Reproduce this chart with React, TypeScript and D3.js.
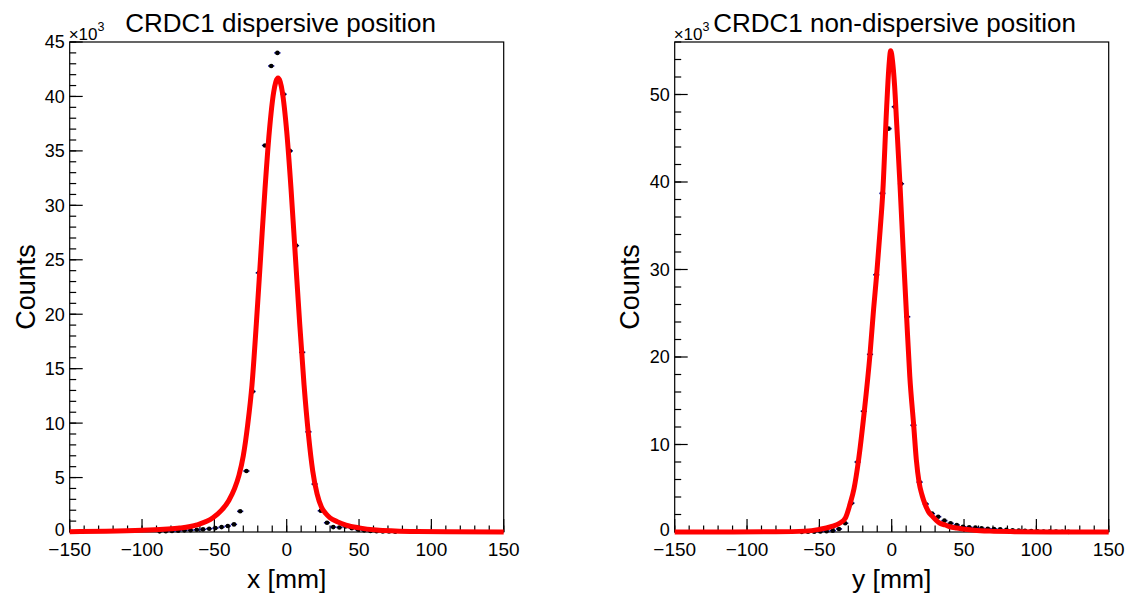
import React from "react";
import * as d3 from "d3";

// Histogram binning: 70 bins over [-150, 150] mm
const X_MIN = -150;
const X_MAX = 150;
const N_BINS = 70;

// Left panel: CRDC1 dispersive position (counts in thousands), bins starting at index 14
const leftFirstBin = 14;
const leftCounts = [
  0.06, 0.07, 0.09, 0.11, 0.15, 0.17, 0.2, 0.24, 0.3, 0.36, 0.45, 0.55, 0.7, 1.9,
  5.6, 12.9, 23.8, 35.5, 42.8, 44.0, 40.2, 35.0, 26.3, 16.5, 9.2, 4.4, 1.95, 0.85,
  0.45, 0.42, 0.5, 0.34, 0.22, 0.15, 0.1, 0.07, 0.05, 0.04, 0.03,
];
// Left fit curve samples [x mm, counts k]
const leftFitX = [
  -150, -125, -100, -85, -74, -62, -51, -45, -40, -36, -33, -30, -27, -24, -21, -18,
  -15, -12, -9, -6, -3, 0, 3, 6, 9, 12, 15, 18, 21, 24, 27, 30, 35, 41, 50, 62, 75,
  90, 110, 150,
];
const leftFitY = [
  0.03, 0.08, 0.17, 0.26, 0.36, 0.65, 1.3, 2.0, 2.9, 4.0, 5.2, 7.0, 9.8, 13.5, 19.1,
  25.3, 31.5, 36.8, 40.4, 41.7, 40.4, 36.8, 31.5, 25.3, 19.1, 13.5, 9.0, 5.6, 3.5,
  2.3, 1.7, 1.3, 0.95, 0.64, 0.38, 0.18, 0.1, 0.05, 0.02, 0.0,
];

// Right panel: CRDC1 non-dispersive position, bins starting at index 20
const rightFirstBin = 20;
const rightCounts = [
  0.02, 0.03, 0.04, 0.06, 0.09, 0.15, 0.35, 1.0, 3.3, 8.0, 13.8, 20.3, 29.4, 38.7,
  46.1, 48.6, 39.8, 24.6, 12.2, 5.7, 3.2, 2.1, 1.75, 1.3, 1.0, 0.8, 0.6, 0.54, 0.5,
  0.42, 0.38, 0.34, 0.3, 0.25, 0.2, 0.16, 0.13, 0.1, 0.08, 0.06, 0.05, 0.04, 0.03,
  0.02,
];
const rightFitX = [
  -150, -110, -80, -60, -50, -42, -36, -32, -28.8, -26, -23.1, -19, -15, -12.5,
  -10.4, -8, -6.2, -3.5, -2, -0.7, 0.6, 2, 3.5, 5.7, 8, 10.3, 12.5, 15.2, 17, 18.9,
  21, 23, 25.5, 28.3, 31, 33.4, 37, 40.3, 45, 49, 57, 68, 85, 110, 150,
];
const rightFitY = [
  0.0, 0.01, 0.03, 0.1, 0.3, 0.6, 1.0, 1.6, 3.2, 5.0, 8.0, 13.7, 20.3, 25.5, 29.4,
  34.5, 38.7, 48.5, 53.0, 55.0, 53.8, 51.0, 46.5, 39.8, 32.0, 24.6, 17.8, 12.2, 8.3,
  5.7, 4.2, 3.2, 2.3, 1.75, 1.3, 1.0, 0.8, 0.6, 0.45, 0.34, 0.2, 0.1, 0.04, 0.01, 0.0,
];

const xTickValues = [-150, -100, -50, 0, 50, 100, 150];
const leftYTicks = [0, 5, 10, 15, 20, 25, 30, 35, 40, 45];
const rightYTicks = [0, 10, 20, 30, 40, 50];

const FONT = "'Liberation Sans', Arial, Helvetica, sans-serif";

type PanelProps = {
  x0: number;
  x1: number;
  y0: number;
  y1: number;
  yMax: number;
  yTicks: number[];
  yMinorStep: number;
  firstBin: number;
  counts: number[];
  fitX: number[];
  fitY: number[];
  title: string;
  titleX: number;
  xLabel: string;
  yLabelX: number;
};

function Panel(p: PanelProps) {
  const x = d3.scaleLinear().domain([X_MIN, X_MAX]).range([p.x0, p.x1]);
  const y = d3.scaleLinear().domain([0, p.yMax]).range([p.y1, p.y0]);
  const binW = (X_MAX - X_MIN) / N_BINS;
  const pts = p.counts.map((c, k) => {
    const i = p.firstBin + k;
    const lo = X_MIN + i * binW;
    return { lo, hi: lo + binW, cx: lo + binW / 2, c };
  });
  const fitData = p.fitX.map((v, i) => [v, p.fitY[i]] as [number, number]);
  const line = d3
    .line<[number, number]>()
    .x((d) => x(d[0]))
    .y((d) => y(d[1]))
    .curve(d3.curveMonotoneX);

  const xMinor = d3.range(X_MIN, X_MAX + 0.001, 10);
  const yMinor = d3.range(0, p.yMax + 0.001, p.yMinorStep);
  const midX = (p.x0 + p.x1) / 2;
  const midY = (p.y0 + p.y1) / 2;

  return (
    <g>
      {/* frame */}
      <rect
        x={p.x0}
        y={p.y0}
        width={p.x1 - p.x0}
        height={p.y1 - p.y0}
        fill="none"
        stroke="#000"
        strokeWidth={1.2}
      />
      {/* x ticks */}
      {xMinor.map((t) => (
        <line key={"xm" + t} x1={x(t)} x2={x(t)} y1={p.y1} y2={p.y1 - 6.5} stroke="#000" strokeWidth={1.2} />
      ))}
      {xTickValues.map((t) => (
        <line key={"xM" + t} x1={x(t)} x2={x(t)} y1={p.y1} y2={p.y1 - 13} stroke="#000" strokeWidth={1.2} />
      ))}
      {xTickValues.map((t) => (
        <text
          key={"xl" + t}
          x={x(t)}
          y={p.y1 + 24}
          textAnchor="middle"
          fontFamily={FONT}
          fontSize={19}
        >
          {t < 0 ? "\u2212" + Math.abs(t) : String(t)}
        </text>
      ))}
      {/* y ticks */}
      {yMinor.map((t) => (
        <line key={"ym" + t} x1={p.x0} x2={p.x0 + 6.5} y1={y(t)} y2={y(t)} stroke="#000" strokeWidth={1.2} />
      ))}
      {p.yTicks.map((t) => (
        <line key={"yM" + t} x1={p.x0} x2={p.x0 + 13} y1={y(t)} y2={y(t)} stroke="#000" strokeWidth={1.2} />
      ))}
      {p.yTicks.map((t) => (
        <text
          key={"yl" + t}
          x={p.x0 - 5}
          y={y(t) - (t === 0 ? 2 : 0)}
          dy="0.36em"
          textAnchor="end"
          fontFamily={FONT}
          fontSize={18}
        >
          {t}
        </text>
      ))}
      {/* x10^3 */}
      <text x={p.x0 - 1} y={p.y0 - 2} fontFamily={FONT} fontSize={17}>
        ×10
        <tspan fontSize={12.5} dy={-9}>
          3
        </tspan>
      </text>
      {/* data points */}
      {pts.map((d, k) => (
        <g key={"p" + k}>
          <line x1={x(d.lo)} x2={x(d.hi)} y1={y(d.c)} y2={y(d.c)} stroke="#10109a" strokeWidth={1.6} />
          <circle cx={x(d.cx)} cy={y(d.c)} r={2.3} fill="#000" />
        </g>
      ))}
      {/* fit */}
      <path d={line(fitData) || ""} fill="none" stroke="#ff0000" strokeWidth={5} strokeLinejoin="round" />
      {/* title */}
      <text x={p.titleX} y={32} textAnchor="middle" fontFamily={FONT} fontSize={26}>
        {p.title}
      </text>
      {/* axis labels */}
      <text x={midX} y={588} textAnchor="middle" fontFamily={FONT} fontSize={26.5}>
        {p.xLabel}
      </text>
      <text
        transform={`translate(${p.yLabelX},${midY}) rotate(-90)`}
        textAnchor="middle"
        fontFamily={FONT}
        fontSize={27}
      >
        Counts
      </text>
    </g>
  );
}

export default function App() {
  return (
    <svg
      width={1126}
      height={594}
      style={{ position: "absolute", left: 0, top: 0, background: "#fff" }}
    >
      <rect x={0} y={0} width={1126} height={594} fill="#fff" />
      <Panel
        x0={69.7}
        x1={503.7}
        y0={42}
        y1={532}
        yMax={45}
        yTicks={leftYTicks}
        yMinorStep={1}
        firstBin={leftFirstBin}
        counts={leftCounts}
        fitX={leftFitX}
        fitY={leftFitY}
        title="CRDC1 dispersive position"
        titleX={280.5}
        xLabel="x [mm]"
        yLabelX={35}
      />
      <Panel
        x0={674.7}
        x1={1108.7}
        y0={42}
        y1={532}
        yMax={56}
        yTicks={rightYTicks}
        yMinorStep={2}
        firstBin={rightFirstBin}
        counts={rightCounts}
        fitX={rightFitX}
        fitY={rightFitY}
        title="CRDC1 non-dispersive position"
        titleX={894.5}
        xLabel="y [mm]"
        yLabelX={639}
      />
    </svg>
  );
}
